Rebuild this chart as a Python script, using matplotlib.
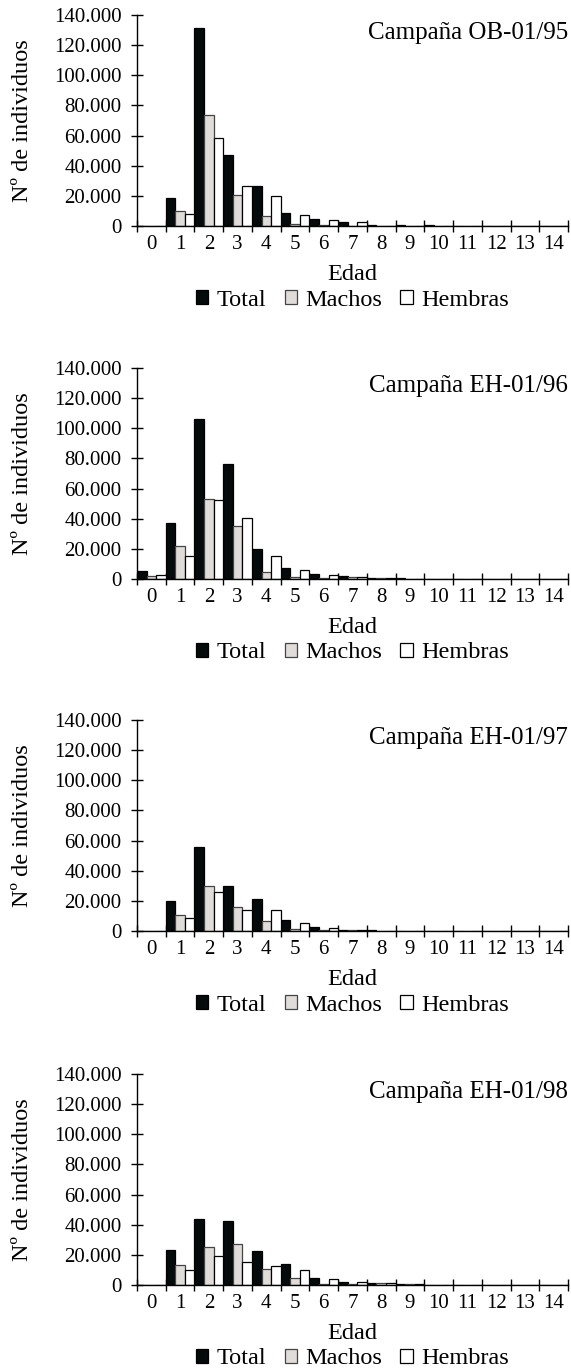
import matplotlib
matplotlib.use("Agg")
import matplotlib.pyplot as plt
import numpy as np
from matplotlib.patches import Patch
from matplotlib.ticker import FuncFormatter, FixedLocator

plt.rcParams['font.family'] = ['Liberation Serif', 'DejaVu Serif']

edad = list(range(15))
titles = ["Campaña OB-01/95", "Campaña EH-01/96", "Campaña EH-01/97", "Campaña EH-01/98"]

total_95 = [0, 18400, 131100, 47300, 26400, 8900, 4400, 2700, 700, 700, 400, 0, 0, 0, 0]
machos_95 = [0, 10000, 73700, 20600, 6900, 1300, 700, 200, 300, 300, 0, 0, 0, 0, 0]
hembras_95 = [0, 8000, 58100, 26400, 20000, 7500, 3800, 2700, 300, 300, 0, 0, 0, 0, 0]

total_96 = [5100, 37100, 106300, 76100, 20000, 7300, 3100, 1800, 900, 700, 0, 0, 0, 0, 0]
machos_96 = [1800, 21700, 53300, 35300, 4400, 1300, 700, 1100, 400, 300, 0, 0, 0, 0, 0]
hembras_96 = [2900, 15100, 52600, 40600, 15500, 6200, 2400, 1100, 400, 300, 0, 0, 0, 0, 0]

total_97 = [0, 19800, 56000, 29900, 21200, 7100, 2700, 900, 400, 0, 0, 0, 0, 0, 0]
machos_97 = [0, 10900, 29900, 15800, 6500, 1300, 400, 400, 0, 0, 0, 0, 0, 0, 0]
hembras_97 = [0, 8300, 25900, 14000, 14000, 5100, 2000, 400, 0, 0, 0, 0, 0, 0, 0]

total_98 = [0, 23400, 44000, 42200, 22800, 14100, 4600, 2200, 1500, 900, 0, 0, 0, 0, 0]
machos_98 = [0, 13300, 25200, 27200, 10800, 4400, 900, 700, 1500, 400, 0, 0, 0, 0, 0]
hembras_98 = [0, 10200, 19000, 15300, 12600, 9700, 3800, 2000, 1100, 400, 0, 0, 0, 0, 0]

series = [
    (total_95, machos_95, hembras_95),
    (total_96, machos_96, hembras_96),
    (total_97, machos_97, hembras_97),
    (total_98, machos_98, hembras_98),
]
legend_labels = ["Total", "Machos", "Hembras"]
colors = ["#050a0b", "#dfdcda", "#ffffff"]
edges = ["#000000", "#444444", "#000000"]
yticks = [0, 20000, 40000, 60000, 80000, 100000, 120000, 140000]

W, H = 571, 1370
fig = plt.figure(figsize=(W / 100, H / 100), dpi=100)

bottoms_px = [226, 579, 931, 1285]
ax_h = 211
left_px, width_px = 137, 431

TICK = 15
LAB = 17.5

def fmt(v, pos):
    v = int(round(v))
    return f"{v:,}".replace(",", ".")

x = np.arange(len(edad))
bw = 1 / 3
for i, (tot, mac, hem) in enumerate(series):
    b = bottoms_px[i]
    ax = fig.add_axes([left_px / W, (H - b) / H, width_px / W, ax_h / H])
    for j, vals in enumerate((tot, mac, hem)):
        ax.bar(x + (j - 1) * bw, vals, width=bw, color=colors[j],
               edgecolor=edges[j], linewidth=0.9, zorder=2)
    ax.set_xlim(-0.5, 14.5)
    ax.set_ylim(0, 140000)
    for s in ("top", "right"):
        ax.spines[s].set_visible(False)
    ax.spines["left"].set_linewidth(1.0)
    ax.spines["bottom"].set_linewidth(1.0)
    ax.set_yticks(yticks)
    ax.yaxis.set_major_formatter(FuncFormatter(fmt))
    ax.tick_params(axis="y", direction="inout", length=8, width=1, labelsize=TICK, pad=7)
    ax.set_xticks(x)
    ax.set_xticklabels([str(e) for e in edad])
    ax.xaxis.set_minor_locator(FixedLocator(np.arange(-0.5, 15, 1.0)))
    ax.tick_params(axis="x", which="major", length=0, labelsize=TICK, pad=6.5)
    ax.tick_params(axis="x", which="minor", direction="inout", length=8, width=1)
    # campaign title (baseline ~39 px below axis top)
    ax.text(1.0, 1 - 24 / ax_h, titles[i], transform=ax.transAxes,
            ha="right", va="baseline", fontsize=18)
    # y label
    cy = b - ax_h / 2
    fig.text(23 / W, (H - cy) / H, "Nº de individuos", rotation=90,
             ha="center", va="center", fontsize=LAB)
    # x label
    fig.text(352 / W, (H - (b + 54)) / H, "Edad", ha="center", va="baseline", fontsize=LAB)
    handles = [Patch(facecolor=colors[k], edgecolor=edges[k],
                     linewidth=0.9, label=legend_labels[k]) for k in range(3)]
    ax.legend(handles=handles, loc="center", bbox_to_anchor=(0.5, -74 / ax_h), ncol=3,
              frameon=False, fontsize=LAB, handlelength=0.5, handleheight=0.5,
              handletextpad=0.35, columnspacing=0.75, borderaxespad=0, borderpad=0)

fig.savefig("out.png", dpi=100)
